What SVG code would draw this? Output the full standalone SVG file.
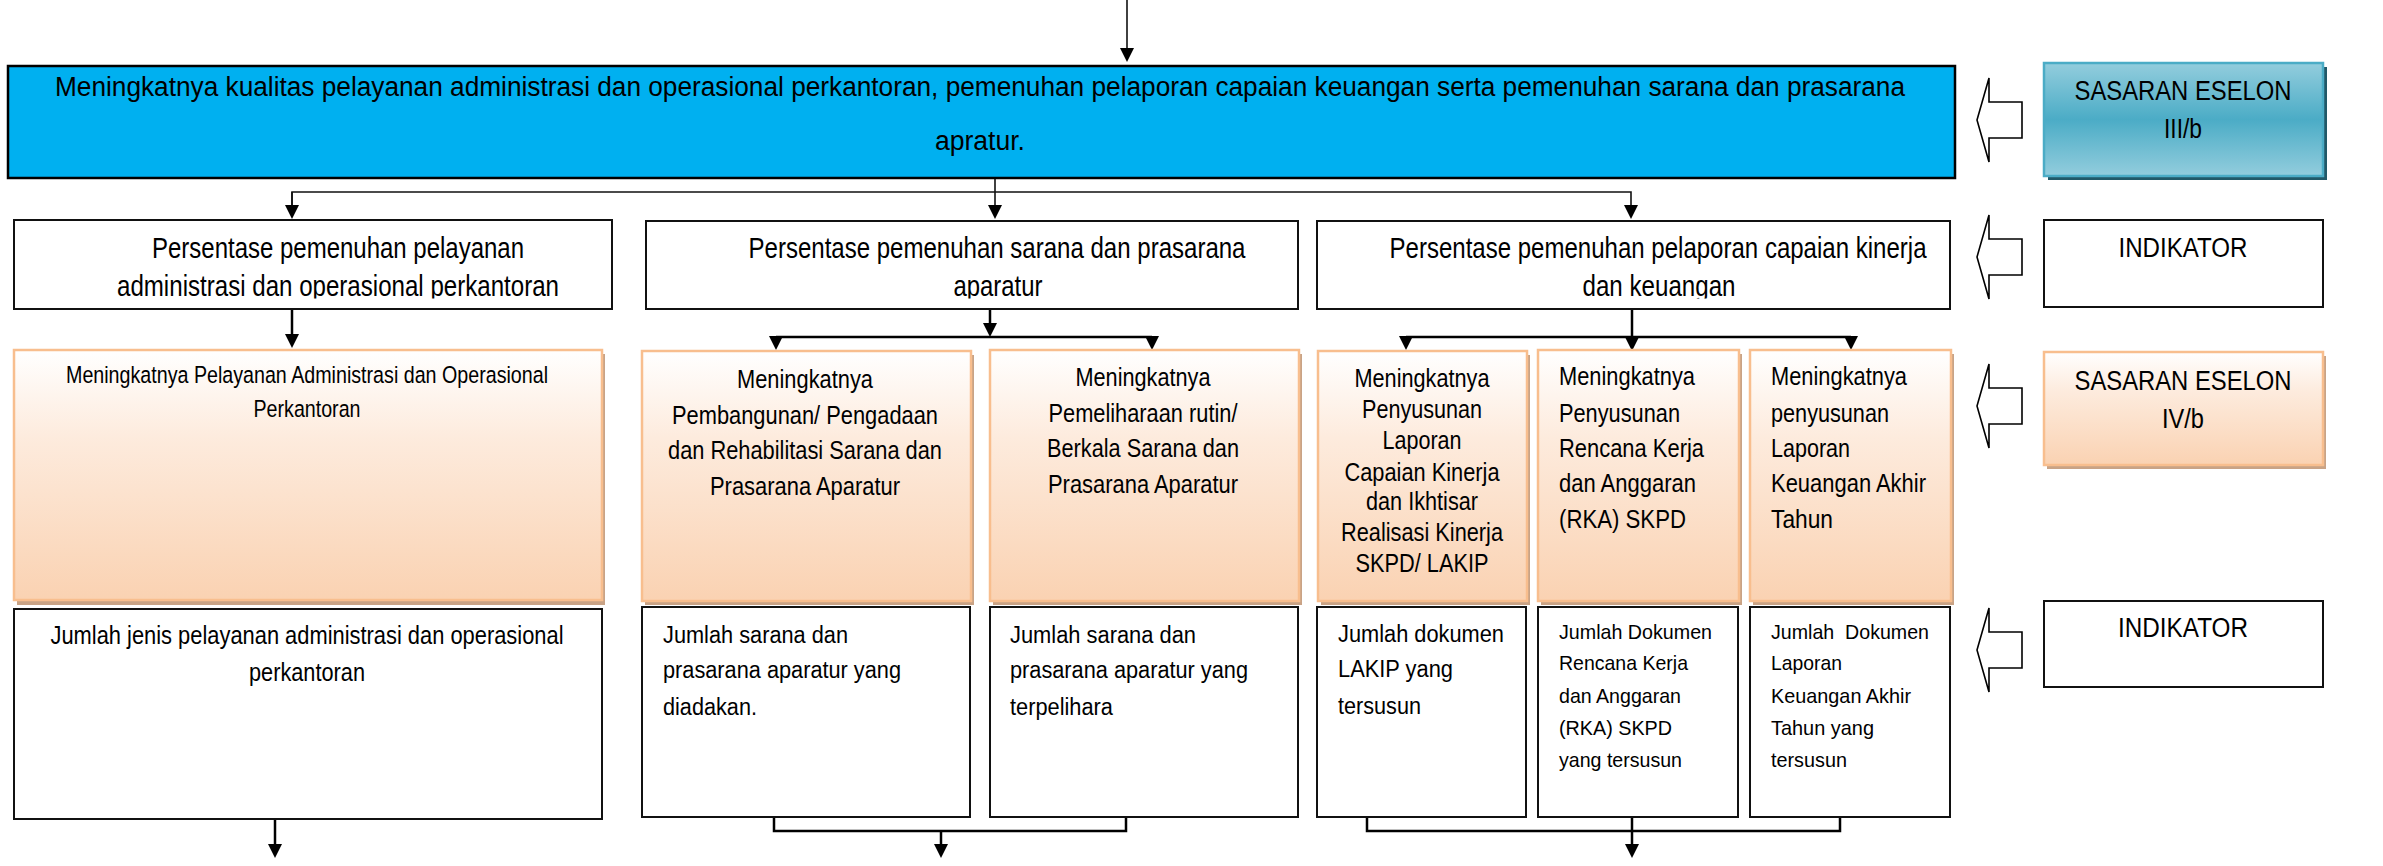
<svg xmlns="http://www.w3.org/2000/svg" xmlns:xlink="http://www.w3.org/1999/xlink" width="2383" height="866" viewBox="0 0 2383 866">
<style>
.n{font-family:"Liberation Sans Narrow","Liberation Sans",Arial,sans-serif;fill:#000}
.r{font-family:"Liberation Sans",Arial,sans-serif;fill:#000}
.c{text-anchor:middle}
.box{fill:#fff;stroke:#111;stroke-width:2}
.org{fill:url(#gOrg);stroke:#F8BE8E;stroke-width:2.5}
.osh{fill:#C9A386}
.ln{fill:none;stroke:#000;stroke-width:2.5}
.lnt{fill:none;stroke:#111;stroke-width:1.6}
.barrow{fill:#fff;stroke:#000;stroke-width:1.6;stroke-linejoin:miter}
</style>
<defs>
<linearGradient id="gOrg" x1="0" y1="0" x2="0" y2="1">
<stop offset="0" stop-color="#FFFFFF"/>
<stop offset="0.35" stop-color="#FDEBDD"/>
<stop offset="1" stop-color="#FAD2B2"/>
</linearGradient>
<linearGradient id="gTeal" x1="0" y1="0" x2="0" y2="1">
<stop offset="0" stop-color="#93CDDD"/>
<stop offset="0.5" stop-color="#4BACC6"/>
<stop offset="1" stop-color="#93CDDD"/>
</linearGradient>
<marker id="ah" markerUnits="userSpaceOnUse" markerWidth="14" markerHeight="14" viewBox="0 0 14 14" refX="4" refY="7" orient="auto">
<path d="M0,0 L14,7 L0,14 z" fill="#000"/>
</marker>
<path id="blk" d="M0,0 L12,-42 L12,-18 L45,-18 L45,18 L12,18 L12,42 Z"/>
<clipPath id="clipP"><rect x="0" y="215" width="2000" height="83.5"/></clipPath>
</defs>

<g id="connectors">
<line class="lnt" x1="1127" y1="0" x2="1127" y2="52" marker-end="url(#ah)"/>
<polyline class="lnt" points="995,178 995,192"/>
<polyline class="lnt" points="292,209 292,192 1631,192 1631,209" marker-end="url(#ah)"/>
<line class="lnt" x1="292" y1="192" x2="292" y2="209" marker-end="url(#ah)"/>
<line class="lnt" x1="995" y1="192" x2="995" y2="209" marker-end="url(#ah)"/>
<line class="ln" x1="292" y1="309" x2="292" y2="338" marker-end="url(#ah)"/>
<line class="ln" x1="990" y1="309" x2="990" y2="327" marker-end="url(#ah)"/>
<line class="ln" x1="776" y1="337" x2="1152" y2="337"/>
<line class="ln" x1="776" y1="337" x2="776" y2="340" marker-end="url(#ah)"/>
<line class="ln" x1="1152" y1="337" x2="1152" y2="340" marker-end="url(#ah)"/>
<line class="ln" x1="1632" y1="309" x2="1632" y2="341" marker-end="url(#ah)"/>
<line class="ln" x1="1406" y1="337" x2="1851" y2="337"/>
<line class="ln" x1="1406" y1="337" x2="1406" y2="340" marker-end="url(#ah)"/>
<line class="ln" x1="1851" y1="337" x2="1851" y2="340" marker-end="url(#ah)"/>
<line class="ln" x1="275" y1="819" x2="275" y2="848" marker-end="url(#ah)"/>
<polyline class="ln" points="774,817 774,831 1126,831 1126,817"/>
<line class="ln" x1="941" y1="831" x2="941" y2="848" marker-end="url(#ah)"/>
<polyline class="ln" points="1367,817 1367,831 1840,831 1840,817"/>
<line class="ln" x1="1632" y1="817" x2="1632" y2="848" marker-end="url(#ah)"/>
</g>

<g id="sasaran-eselon-3">
<rect x="8" y="66" width="1947" height="112" fill="#00B0F0" stroke="#000" stroke-width="2.5"/>
<text class="n" x="55" y="96" font-size="27" textLength="1850" lengthAdjust="spacingAndGlyphs">Meningkatnya kualitas pelayanan administrasi dan operasional perkantoran, pemenuhan pelaporan capaian keuangan serta pemenuhan sarana dan prasarana</text>
<text class="n c" x="980" y="150" font-size="27" textLength="90" lengthAdjust="spacingAndGlyphs">apratur.</text>
</g>

<g id="indikator-1">
<rect class="box" x="14" y="220" width="598" height="89"/>
<g clip-path="url(#clipP)">
<text class="n c" x="338" y="258" font-size="29" textLength="372" lengthAdjust="spacingAndGlyphs">Persentase pemenuhan pelayanan</text>
<text class="n c" x="338" y="296" font-size="29" textLength="442" lengthAdjust="spacingAndGlyphs">administrasi dan operasional perkantoran</text>
</g>
</g>
<g id="indikator-2">
<rect class="box" x="646" y="221" width="652" height="88"/>
<g clip-path="url(#clipP)">
<text class="n c" x="997" y="258" font-size="29" textLength="497" lengthAdjust="spacingAndGlyphs">Persentase pemenuhan sarana dan prasarana</text>
<text class="n c" x="998" y="296" font-size="29" textLength="89" lengthAdjust="spacingAndGlyphs">aparatur</text>
</g>
</g>
<g id="indikator-3">
<rect class="box" x="1317" y="221" width="633" height="88"/>
<g clip-path="url(#clipP)">
<text class="n c" x="1658" y="258" font-size="29" textLength="537" lengthAdjust="spacingAndGlyphs">Persentase pemenuhan pelaporan capaian kinerja</text>
<text class="n c" x="1659" y="296" font-size="29" textLength="153" lengthAdjust="spacingAndGlyphs">dan keuangan</text>
</g>
</g>

<g id="sasaran-4-1">
<rect class="osh" x="17" y="354" width="588" height="251"/>
<rect class="org" x="14" y="350" width="588" height="250"/>
<text class="n c" x="307" y="383" font-size="24.5" textLength="482" lengthAdjust="spacingAndGlyphs">Meningkatnya Pelayanan Administrasi dan Operasional</text>
<text class="n c" x="307" y="417" font-size="24.5" textLength="107" lengthAdjust="spacingAndGlyphs">Perkantoran</text>
</g>
<g id="sasaran-4-2">
<rect class="osh" x="645" y="355" width="329" height="250"/>
<rect class="org" x="642" y="351" width="329" height="250"/>
<text class="n c" x="805" y="388" font-size="26.5" textLength="136" lengthAdjust="spacingAndGlyphs">Meningkatnya</text>
<text class="n c" x="805" y="424" font-size="26.5" textLength="266" lengthAdjust="spacingAndGlyphs">Pembangunan/ Pengadaan</text>
<text class="n c" x="805" y="459" font-size="26.5" textLength="274" lengthAdjust="spacingAndGlyphs">dan Rehabilitasi Sarana dan</text>
<text class="n c" x="805" y="495" font-size="26.5" textLength="190" lengthAdjust="spacingAndGlyphs">Prasarana Aparatur</text>
</g>
<g id="sasaran-4-3">
<rect class="osh" x="993" y="354" width="309" height="251"/>
<rect class="org" x="990" y="350" width="309" height="251"/>
<text class="n c" x="1143" y="386" font-size="26.5" textLength="135" lengthAdjust="spacingAndGlyphs">Meningkatnya</text>
<text class="n c" x="1143" y="422" font-size="26.5" textLength="189" lengthAdjust="spacingAndGlyphs">Pemeliharaan rutin/</text>
<text class="n c" x="1143" y="457" font-size="26.5" textLength="192" lengthAdjust="spacingAndGlyphs">Berkala Sarana dan</text>
<text class="n c" x="1143" y="493" font-size="26.5" textLength="190" lengthAdjust="spacingAndGlyphs">Prasarana Aparatur</text>
</g>
<g id="sasaran-4-4">
<rect class="osh" x="1321" y="355" width="209" height="250"/>
<rect class="org" x="1318" y="351" width="209" height="250"/>
<text class="n c" x="1422" y="387" font-size="26.5" textLength="135" lengthAdjust="spacingAndGlyphs">Meningkatnya</text>
<text class="n c" x="1422" y="418" font-size="26.5" textLength="120" lengthAdjust="spacingAndGlyphs">Penyusunan</text>
<text class="n c" x="1422" y="449" font-size="26.5" textLength="79" lengthAdjust="spacingAndGlyphs">Laporan</text>
<text class="n c" x="1422" y="481" font-size="26.5" textLength="155" lengthAdjust="spacingAndGlyphs">Capaian Kinerja</text>
<text class="n c" x="1422" y="510" font-size="26.5" textLength="112" lengthAdjust="spacingAndGlyphs">dan Ikhtisar</text>
<text class="n c" x="1422" y="541" font-size="26.5" textLength="162" lengthAdjust="spacingAndGlyphs">Realisasi Kinerja</text>
<text class="n c" x="1422" y="572" font-size="26.5" textLength="133" lengthAdjust="spacingAndGlyphs">SKPD/ LAKIP</text>
</g>
<g id="sasaran-4-5">
<rect class="osh" x="1541" y="354" width="201" height="251"/>
<rect class="org" x="1538" y="350" width="201" height="251"/>
<text class="n" x="1559" y="385" font-size="26.5" textLength="136" lengthAdjust="spacingAndGlyphs">Meningkatnya</text>
<text class="n" x="1559" y="422" font-size="26.5" textLength="121" lengthAdjust="spacingAndGlyphs">Penyusunan</text>
<text class="n" x="1559" y="457" font-size="26.5" textLength="145" lengthAdjust="spacingAndGlyphs">Rencana Kerja</text>
<text class="n" x="1559" y="492" font-size="26.5" textLength="137" lengthAdjust="spacingAndGlyphs">dan Anggaran</text>
<text class="n" x="1559" y="528" font-size="26.5" textLength="127" lengthAdjust="spacingAndGlyphs">(RKA) SKPD</text>
</g>
<g id="sasaran-4-6">
<rect class="osh" x="1753" y="354" width="201" height="251"/>
<rect class="org" x="1750" y="350" width="201" height="251"/>
<text class="n" x="1771" y="385" font-size="26.5" textLength="136" lengthAdjust="spacingAndGlyphs">Meningkatnya</text>
<text class="n" x="1771" y="422" font-size="26.5" textLength="118" lengthAdjust="spacingAndGlyphs">penyusunan</text>
<text class="n" x="1771" y="457" font-size="26.5" textLength="79" lengthAdjust="spacingAndGlyphs">Laporan</text>
<text class="n" x="1771" y="492" font-size="26.5" textLength="155" lengthAdjust="spacingAndGlyphs">Keuangan Akhir</text>
<text class="n" x="1771" y="528" font-size="26.5" textLength="62" lengthAdjust="spacingAndGlyphs">Tahun</text>
</g>

<g id="indikator-4-1">
<rect class="box" x="14" y="609" width="588" height="210"/>
<text class="n c" x="307" y="644" font-size="25" textLength="513" lengthAdjust="spacingAndGlyphs">Jumlah jenis pelayanan administrasi dan operasional</text>
<text class="n c" x="307" y="681" font-size="25" textLength="116" lengthAdjust="spacingAndGlyphs">perkantoran</text>
</g>
<g id="indikator-4-2">
<rect class="box" x="642" y="607" width="328" height="210"/>
<text class="r" x="663" y="643" font-size="23" textLength="185" lengthAdjust="spacingAndGlyphs">Jumlah sarana dan</text>
<text class="r" x="663" y="678" font-size="23" textLength="238" lengthAdjust="spacingAndGlyphs">prasarana aparatur yang</text>
<text class="r" x="663" y="715" font-size="23" textLength="94" lengthAdjust="spacingAndGlyphs">diadakan.</text>
</g>
<g id="indikator-4-3">
<rect class="box" x="990" y="607" width="308" height="210"/>
<text class="r" x="1010" y="643" font-size="23" textLength="186" lengthAdjust="spacingAndGlyphs">Jumlah sarana dan</text>
<text class="r" x="1010" y="678" font-size="23" textLength="238" lengthAdjust="spacingAndGlyphs">prasarana aparatur yang</text>
<text class="r" x="1010" y="715" font-size="23" textLength="103" lengthAdjust="spacingAndGlyphs">terpelihara</text>
</g>
<g id="indikator-4-4">
<rect class="box" x="1317" y="607" width="209" height="210"/>
<text class="r" x="1338" y="642" font-size="23" textLength="166" lengthAdjust="spacingAndGlyphs">Jumlah dokumen</text>
<text class="r" x="1338" y="677" font-size="23" textLength="115" lengthAdjust="spacingAndGlyphs">LAKIP yang</text>
<text class="r" x="1338" y="714" font-size="23" textLength="83" lengthAdjust="spacingAndGlyphs">tersusun</text>
</g>
<g id="indikator-4-5">
<rect class="box" x="1538" y="607" width="200" height="210"/>
<text class="n" x="1559" y="639" font-size="21" textLength="153" lengthAdjust="spacingAndGlyphs">Jumlah Dokumen</text>
<text class="n" x="1559" y="670" font-size="21" textLength="129" lengthAdjust="spacingAndGlyphs">Rencana Kerja</text>
<text class="n" x="1559" y="703" font-size="21" textLength="122" lengthAdjust="spacingAndGlyphs">dan Anggaran</text>
<text class="n" x="1559" y="735" font-size="21" textLength="113" lengthAdjust="spacingAndGlyphs">(RKA) SKPD</text>
<text class="n" x="1559" y="767" font-size="21" textLength="123" lengthAdjust="spacingAndGlyphs">yang tersusun</text>
</g>
<g id="indikator-4-6">
<rect class="box" x="1750" y="607" width="200" height="210"/>
<text class="n" x="1771" y="639" font-size="21" textLength="158" lengthAdjust="spacingAndGlyphs" xml:space="preserve">Jumlah  Dokumen</text>
<text class="n" x="1771" y="670" font-size="21" textLength="71" lengthAdjust="spacingAndGlyphs">Laporan</text>
<text class="n" x="1771" y="703" font-size="21" textLength="140" lengthAdjust="spacingAndGlyphs">Keuangan Akhir</text>
<text class="n" x="1771" y="735" font-size="21" textLength="103" lengthAdjust="spacingAndGlyphs">Tahun yang</text>
<text class="n" x="1771" y="767" font-size="21" textLength="76" lengthAdjust="spacingAndGlyphs">tersusun</text>
</g>

<g id="legend-arrows">
<use xlink:href="#blk" href="#blk" class="barrow" x="1977" y="120"/>
<use xlink:href="#blk" href="#blk" class="barrow" x="1977" y="257"/>
<use xlink:href="#blk" href="#blk" class="barrow" x="1977" y="406"/>
<use xlink:href="#blk" href="#blk" class="barrow" x="1977" y="650"/>
</g>

<g id="label-sasaran-3">
<rect x="2048" y="67" width="279" height="113" fill="#215968"/>
<rect x="2044" y="63" width="279" height="113" fill="url(#gTeal)" stroke="#4BACC6" stroke-width="2.5"/>
<text class="n c" x="2183" y="100" font-size="27" textLength="217" lengthAdjust="spacingAndGlyphs">SASARAN ESELON</text>
<text class="n c" x="2183" y="138" font-size="27" textLength="38" lengthAdjust="spacingAndGlyphs">III/b</text>
</g>
<g id="label-indikator-1">
<rect class="box" x="2044" y="220" width="279" height="87"/>
<text class="n c" x="2183" y="257" font-size="27" textLength="129" lengthAdjust="spacingAndGlyphs">INDIKATOR</text>
</g>
<g id="label-sasaran-4">
<rect class="osh" x="2047" y="356" width="279" height="113"/>
<rect class="org" x="2044" y="352" width="279" height="113"/>
<text class="n c" x="2183" y="390" font-size="27" textLength="217" lengthAdjust="spacingAndGlyphs">SASARAN ESELON</text>
<text class="n c" x="2183" y="428" font-size="27" textLength="42" lengthAdjust="spacingAndGlyphs">IV/b</text>
</g>
<g id="label-indikator-2">
<rect class="box" x="2044" y="601" width="279" height="86"/>
<text class="n c" x="2183" y="637" font-size="27" textLength="130" lengthAdjust="spacingAndGlyphs">INDIKATOR</text>
</g>
</svg>
